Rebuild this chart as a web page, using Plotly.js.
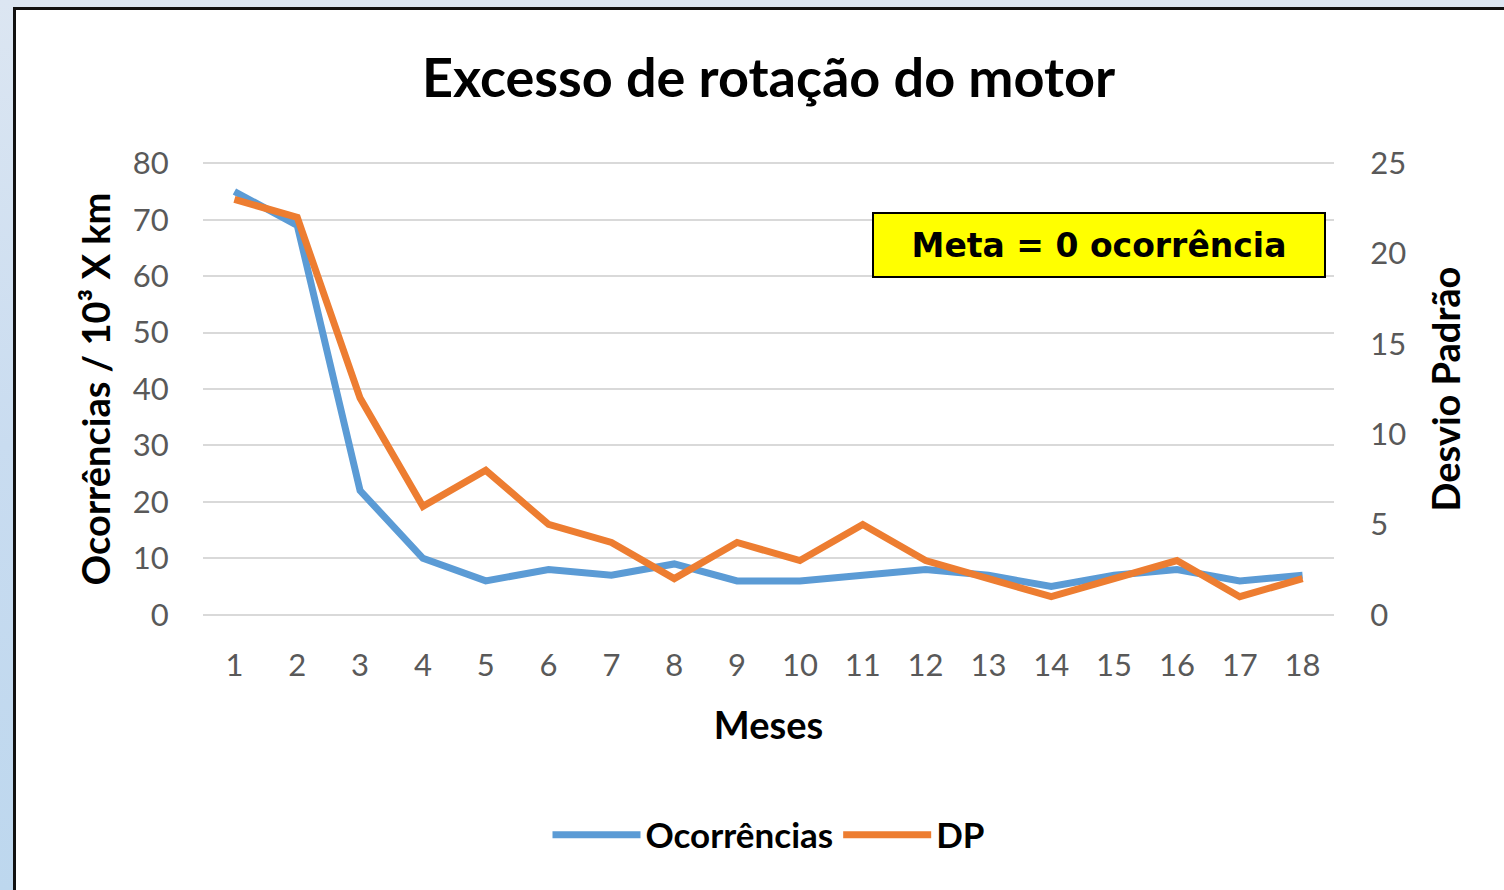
<!DOCTYPE html>
<html>
<head>
<meta charset="utf-8">
<script src="https://cdn.plot.ly/plotly-3.0.1.min.js"></script>
<style>
  html, body { margin: 0; padding: 0; width: 1504px; height: 890px; overflow: hidden;
    background: linear-gradient(to bottom, #dce6f2 0%, #c9dcf0 50%, #bdd7ee 100%); }
  #frame { position: absolute; left: 13px; top: 7px; width: 1500px; height: 900px;
    background: #ffffff; border-left: 3px solid #111; border-top: 3px solid #111; }
  #chart { position: absolute; left: 0; top: 0; width: 1504px; height: 890px; }
</style>
</head>
<body>
<div id="frame"></div>
<div id="chart"></div>
<script>
const meses = ["1","2","3","4","5","6","7","8","9","10","11","12","13","14","15","16","17","18"];
const ocorrencias = [75, 69, 22, 10, 6, 8, 7, 9, 6, 6, 7, 8, 7, 5, 7, 8, 6, 7];
const dp = [23, 22, 12, 6, 8, 5, 4, 2, 4, 3, 5, 3, 2, 1, 2, 3, 1, 2];
const yTicks = [0, 10, 20, 30, 40, 50, 60, 70, 80];
const y2Ticks = [0, 5, 10, 15, 20, 25];

const FONT = "Lato, 'Open Sans', sans-serif";
const traces = [
  { x: meses, y: ocorrencias, name: "Ocorrências", type: "scatter", mode: "lines",
    line: { color: "#5b9bd5", width: 7, shape: "linear" }, yaxis: "y" },
  { x: meses, y: dp, name: "DP", type: "scatter", mode: "lines",
    line: { color: "#ed7d31", width: 7, shape: "linear" }, yaxis: "y2" }
];

const layout = {
  width: 1504, height: 890,
  paper_bgcolor: "rgba(0,0,0,0)", plot_bgcolor: "rgba(0,0,0,0)",
  margin: { l: 203, r: 170, t: 161, b: 273 },
  font: { family: FONT, color: "#595959" },
  title: { text: "Excesso de rotação do motor", x: 0.5, xref: "paper", xanchor: "center",
    y: 1 - 78 / 890, yref: "container", yanchor: "middle",
    font: { family: FONT, size: 54, color: "#000000", weight: "bold" } },
  xaxis: { type: "category", tickvals: meses, ticktext: meses, range: [-0.5, 17.5],
    showgrid: false, zeroline: false, showline: false,
    ticks: "outside", ticklen: 21, tickcolor: "rgba(0,0,0,0)",
    tickfont: { size: 31, color: "#595959", family: FONT },
    title: { text: "Meses", standoff: 30, font: { size: 38, color: "#000000", family: FONT, weight: "bold" } } },
  yaxis: { range: [-0.4, 80.4], tickvals: yTicks, showgrid: true, gridcolor: "#d9d9d9", gridwidth: 2,
    zeroline: false, showline: false,
    ticks: "outside", ticklen: 27, tickcolor: "rgba(0,0,0,0)",
    tickfont: { size: 31, color: "#595959", family: FONT },
    title: { text: "Ocorrências / 10³ X km", standoff: 10, font: { size: 38, color: "#000000", family: FONT, weight: "bold" } } },
  yaxis2: { range: [-0.125, 25.125], tickvals: y2Ticks, overlaying: "y", side: "right", showgrid: false,
    zeroline: false, showline: false,
    ticks: "outside", ticklen: 29, tickcolor: "rgba(0,0,0,0)",
    tickfont: { size: 31, color: "#595959", family: FONT },
    title: { text: "Desvio Padrão", standoff: 28, font: { size: 38, color: "#000000", family: FONT, weight: "bold" } } },
  showlegend: true,
  legend: { orientation: "h", x: 0.5, xref: "paper", xanchor: "center",
    y: 1 - 835 / 890, yref: "container", yanchor: "middle",
    font: { size: 35, color: "#000000", family: FONT, weight: "bold" },
    itemwidth: 88, tracegroupgap: 0 },
  annotations: [{
    text: "Meta = 0 ocorrência", xref: "paper", yref: "paper",
    x: (1099 - 203) / 1131, y: (890 - 273 - 245) / 456, xanchor: "center", yanchor: "middle",
    showarrow: false, bgcolor: "#ffff00", bordercolor: "#000000", borderwidth: 2,
    width: 448, height: 60,
    font: { family: "'DejaVu Sans', Verdana, sans-serif", size: 33, color: "#000000", weight: "bold" }
  }]
};

Plotly.newPlot("chart", traces, layout, { displayModeBar: false, staticPlot: true });
</script>
</body>
</html>
